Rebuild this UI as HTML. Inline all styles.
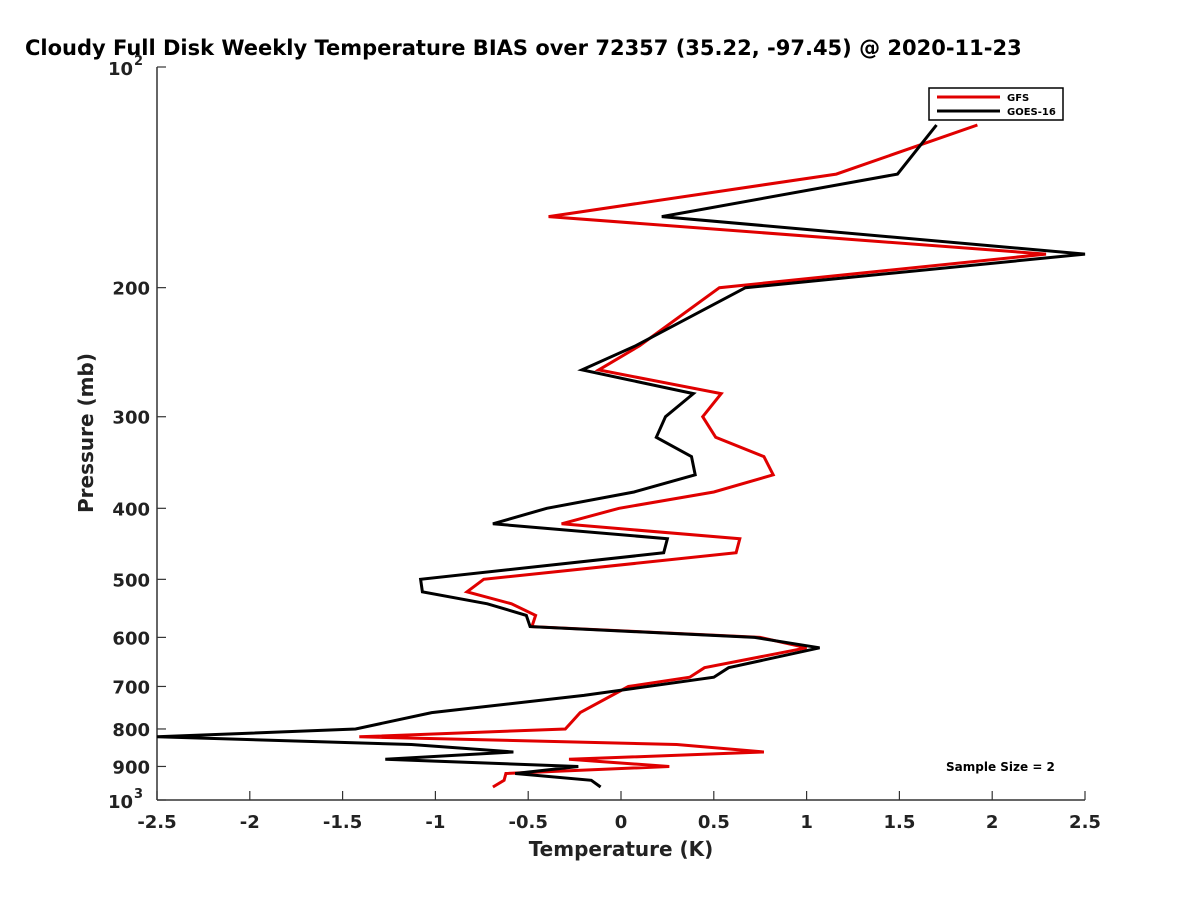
<!DOCTYPE html>
<html><head><meta charset="utf-8"><style>
body{margin:0;background:#fff;}
svg{display:block;font-family:"DejaVu Sans","Liberation Sans",sans-serif;}
</style></head><body>
<svg id="chart" width="1200" height="900" viewBox="0 0 1200 900">
<rect width="1200" height="900" fill="#fff"/>
<text x="25" y="55" font-size="21" font-weight="bold">Cloudy Full Disk Weekly Temperature BIAS over 72357 (35.22, -97.45) @ 2020-11-23</text>
<g id="axes"></g>
<g id="series"></g>
<g>
<rect x="929" y="88" width="134" height="32" fill="#fff" stroke="#000" stroke-width="1.5"/>
<line x1="937" y1="97" x2="1000" y2="97" stroke="#e00000" stroke-width="3"/>
<text x="1007" y="101" font-size="10" font-weight="bold">GFS</text>
<line x1="937" y1="111" x2="1000" y2="111" stroke="#000" stroke-width="3"/>
<text x="1007" y="115" font-size="10" font-weight="bold">GOES-16</text>
</g>
<text x="946" y="771" font-size="12" font-weight="bold">Sample Size = 2</text>
<text x="621" y="856" font-size="20" font-weight="bold" text-anchor="middle" fill="#222">Temperature (K)</text>
<text x="0" y="0" font-size="20" font-weight="bold" text-anchor="middle" fill="#222" transform="translate(93,433) rotate(-90)">Pressure (mb)</text>
</svg>
<script>
const xTicks=[-2.5,-2,-1.5,-1,-0.5,0,0.5,1,1.5,2,2.5];
const xTickLabels=["-2.5","-2","-1.5","-1","-0.5","0","0.5","1","1.5","2","2.5"];
const yTicks=[200,300,400,500,600,700,800,900];
const yTickLabels=["200","300","400","500","600","700","800","900"];
const gfsP=[120,140,160,180,200,240,259,279,300,320,340,360,380,400,420,440,460,500,520,540,560,580,600,620,660,680,700,760,780,800,820,840,860,880,900,920,940,960];
const gfsT=[1.92,1.16,-0.39,2.29,0.53,0.10,-0.12,0.54,0.44,0.51,0.77,0.82,0.50,-0.01,-0.32,0.64,0.62,-0.74,-0.83,-0.59,-0.46,-0.48,0.75,1.00,0.45,0.37,0.04,-0.22,-0.26,-0.30,-1.41,0.30,0.77,-0.28,0.26,-0.62,-0.63,-0.69];
const goesP=[120,140,160,180,200,240,259,279,300,320,340,360,380,400,420,440,460,500,520,540,560,580,600,620,660,680,720,760,800,820,840,860,880,900,920,940,960];
const goesT=[1.70,1.49,0.22,2.5,0.67,0.08,-0.21,0.39,0.24,0.19,0.38,0.40,0.07,-0.40,-0.69,0.25,0.23,-1.08,-1.07,-0.72,-0.51,-0.49,0.72,1.07,0.58,0.50,-0.20,-1.02,-1.43,-2.5,-1.13,-0.58,-1.27,-0.23,-0.57,-0.16,-0.11];
const X0=157,X1=1085,Y0=67,Y1=800;
function xs(t){return X0+(t+2.5)/5*(X1-X0);}
function ys(p){return Y0+Math.log10(p/100)*(Y1-Y0);}
const NS="http://www.w3.org/2000/svg";
function mk(tag,attrs,parent,txt){const e=document.createElementNS(NS,tag);for(const k in attrs)e.setAttribute(k,attrs[k]);if(txt!==undefined)e.textContent=txt;parent.appendChild(e);return e;}
const ax=document.getElementById('axes');
let l=mk('line',{x1:X0,y1:Y0,x2:X0,y2:Y1,stroke:'#333','stroke-width':1.5},ax);


l=mk('line',{x1:X0,y1:Y1,x2:X1,y2:Y1,stroke:'#333','stroke-width':1.5},ax);


xTicks.forEach((t,i)=>{
 const x=xs(t);
 const tk=mk('line',{x1:x,y1:Y1,x2:x,y2:Y1-9,stroke:'#333','stroke-width':1.2},ax);
 
 
 const tx=mk('text',{x:x,y:828,'font-size':18,'font-weight':'bold','text-anchor':'middle',fill:'#222'},ax,xTickLabels[i]);
 
 
});
yTicks.forEach((p,i)=>{
 const y=ys(p);
 const tk=mk('line',{x1:X0,y1:y,x2:X0+9,y2:y,stroke:'#333','stroke-width':1.2},ax);
 
 
 const tx=mk('text',{x:150,y:y+7,'font-size':18,'font-weight':'bold','text-anchor':'end',fill:'#222'},ax,yTickLabels[i]);
 
 
});
[[100,'2'],[1000,'3']].forEach(d=>{
 const y=ys(d[0]);
 const tk=mk('line',{x1:X0,y1:y,x2:X0+9,y2:y,stroke:'#333','stroke-width':1.2},ax);
 
 
 const tx=mk('text',{x:133,y:y+8,'font-size':18,'font-weight':'bold','text-anchor':'end',fill:'#222'},ax,'10');
 
 
 const sp=mk('text',{x:134,y:y-2,'font-size':13,'font-weight':'bold',fill:'#222'},ax,d[1]);
 
 
});
const sg=document.getElementById('series');
function draw(T,P,color,name){
 const pts=T.map((t,i)=>xs(t).toFixed(1)+','+ys(P[i]).toFixed(1)).join(' ');
 const pl=mk('polyline',{points:pts,fill:'none',stroke:color,'stroke-width':3,'stroke-linejoin':'miter'},sg);
 
 
}
draw(gfsT,gfsP,'#e00000','gfs-line');
draw(goesT,goesP,'#000','goes16-line');
</script>
</body></html>
